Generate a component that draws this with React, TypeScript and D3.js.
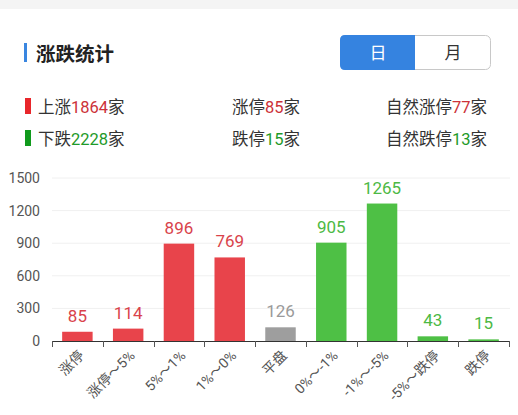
import { useEffect, useRef } from "react";
import * as d3 from "d3";

const categories = ["涨停", "涨停～5%", "5%～1%", "1%～0%", "平盘", "0%～-1%", "-1%～-5%", "-5%～跌停", "跌停"];
const counts = [85, 114, 896, 769, 126, 905, 1265, 43, 15];
const kinds = ["up", "up", "up", "up", "flat", "down", "down", "down", "down"];
const yTicks = [0, 300, 600, 900, 1200, 1500];

const summaryUp = [
  { label: "上涨", value: 1864 },
  { label: "涨停", value: 85 },
  { label: "自然涨停", value: 77 },
];
const summaryDown = [
  { label: "下跌", value: 2228 },
  { label: "跌停", value: 15 },
  { label: "自然跌停", value: 13 },
];

const barColor: Record<string, string> = { up: "#e8444b", flat: "#9e9e9e", down: "#4ec045" };
const labelColor: Record<string, string> = { up: "#d9434b", flat: "#9a9a9a", down: "#4cb944" };

const FONT = "Roboto, 'Noto Sans CJK SC', sans-serif";

export default function App() {
  const svgRef = useRef<SVGSVGElement | null>(null);
  const width = 518;
  const height = 415;

  useEffect(() => {
    document.body.style.margin = "0";
    if (!svgRef.current) return;
    const svg = d3.select(svgRef.current);
    svg.selectAll("*").remove();

    svg.append("rect").attr("width", width).attr("height", height).attr("fill", "#fff");
    svg.append("rect").attr("width", width).attr("height", 9).attr("fill", "#f4f4f4");

    // title
    svg.append("rect").attr("x", 24).attr("y", 43).attr("width", 3).attr("height", 19).attr("fill", "#3a86e0");
    svg.append("text")
      .attr("x", 36).attr("y", 61)
      .style("font-family", FONT).style("font-size", "19.5px").style("font-weight", "bold")
      .attr("fill", "#222").text("涨跌统计");

    // day / month toggle
    const tg = svg.append("g");
    tg.append("rect").attr("x", 340.5).attr("y", 35.5).attr("width", 150).attr("height", 34)
      .attr("rx", 5).attr("fill", "#fff").attr("stroke", "#c8c8c8");
    tg.append("path")
      .attr("d", "M415,35 L345,35 Q340,35 340,40 L340,65 Q340,70 345,70 L415,70 Z")
      .attr("fill", "#3583e0");
    tg.append("text").attr("x", 378).attr("y", 59).attr("text-anchor", "middle")
      .style("font-family", FONT).style("font-size", "17px").attr("fill", "#fff").text("日");
    tg.append("text").attr("x", 453).attr("y", 59).attr("text-anchor", "middle")
      .style("font-family", FONT).style("font-size", "17px").attr("fill", "#333").text("月");

    // summary rows
    const rows = [
      { items: summaryUp, y: 113, mark: "#e8262b", num: "#cc3239" },
      { items: summaryDown, y: 145, mark: "#109a1c", num: "#1e9a29" },
    ];
    rows.forEach(r => {
      svg.append("rect").attr("x", 25).attr("y", r.y - 15).attr("width", 6).attr("height", 16).attr("fill", r.mark);
      r.items.forEach((it, i) => {
        const t = svg.append("text")
          .attr("y", r.y)
          .style("font-family", FONT).style("font-size", "16.5px").attr("fill", "#333");
        if (i === 0) t.attr("x", 38);
        else if (i === 1) t.attr("x", 232);
        else t.attr("x", 487).attr("text-anchor", "end");
        t.append("tspan").text(it.label);
        t.append("tspan").attr("fill", r.num).text(String(it.value));
        t.append("tspan").text("家");
      });
    });

    // chart
    const x = d3.scaleBand<string>().domain(categories).range([52, 509]).paddingInner(0.4).paddingOuter(0.2);
    const y = d3.scaleLinear().domain([0, 1500]).range([341, 178]);

    const grid = svg.append("g");
    yTicks.forEach(v => {
      if (v > 0) {
        grid.append("line").attr("x1", 52).attr("x2", 510).attr("y1", y(v)).attr("y2", y(v))
          .attr("stroke", "#f0f0f0").attr("stroke-width", 1);
      }
      grid.append("text").attr("x", 40).attr("y", y(v)).attr("dy", "0.35em").attr("text-anchor", "end")
        .style("font-family", FONT).style("font-size", "14px").attr("fill", "#555").text(String(v));
    });

    const data = categories.map((c, i) => ({ c, v: counts[i], k: kinds[i] }));

    svg.append("g").selectAll("rect").data(data).enter().append("rect")
      .attr("x", d => x(d.c)!)
      .attr("width", x.bandwidth())
      .attr("y", d => y(d.v))
      .attr("height", d => y(0) - y(d.v))
      .attr("fill", d => barColor[d.k]);

    svg.append("g").selectAll("text").data(data).enter().append("text")
      .attr("x", d => x(d.c)! + x.bandwidth() / 2)
      .attr("y", d => y(d.v) - 10)
      .attr("text-anchor", "middle")
      .style("font-family", FONT).style("font-size", "17px")
      .attr("fill", d => labelColor[d.k])
      .text(d => String(d.v));

    // axis
    const step = x.step();
    svg.append("line").attr("x1", 52).attr("x2", 510).attr("y1", 341.5).attr("y2", 341.5)
      .attr("stroke", "#333").attr("stroke-width", 1.2);
    d3.range(categories.length + 1).forEach(i => {
      const tx = Math.round(52 + i * step) + 0.5;
      svg.append("line").attr("x1", tx).attr("x2", tx).attr("y1", 341).attr("y2", 347)
        .attr("stroke", "#555").attr("stroke-width", 1);
    });

    svg.append("g").selectAll("text").data(data).enter().append("text")
      .attr("transform", d => `translate(${x(d.c)! + x.bandwidth() / 2 + 4},353) rotate(-45)`)
      .attr("text-anchor", "end")
      .attr("dy", "0.35em")
      .style("font-family", FONT).style("font-size", "14px").attr("fill", "#555")
      .text(d => d.c);
  }, []);

  return <svg ref={svgRef} width={width} height={height} style={{ display: "block" }} />;
}
